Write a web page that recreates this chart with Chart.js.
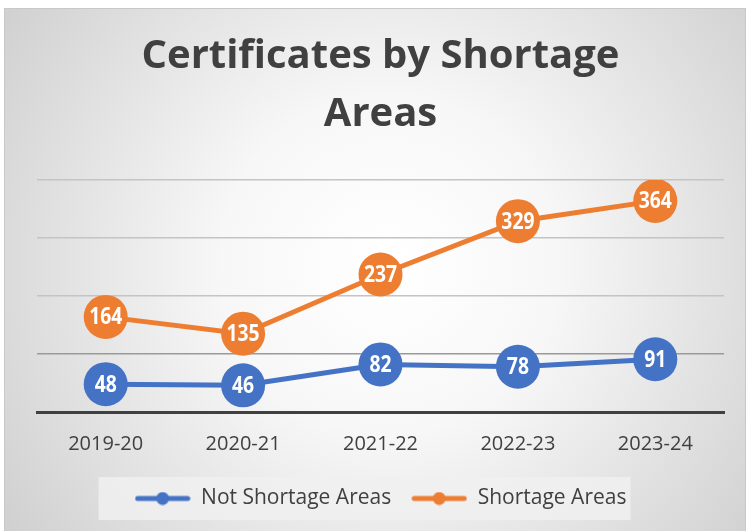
<!DOCTYPE html>
<html>
<head>
<meta charset="utf-8">
<script src="https://cdn.jsdelivr.net/npm/chart.js@4.4.0/dist/chart.umd.min.js"></script>
<style>
  html, body { margin: 0; padding: 0; background: #fff; }
  #wrap { width: 747px; height: 531px; }
</style>
</head>
<body>
<div id="wrap"><canvas id="grafico"></canvas></div>
<script>
// datos
const anios = ['2019-20', '2020-21', '2021-22', '2022-23', '2023-24'];
const noEscasez = [48, 46, 82, 78, 91];
const escasez = [164, 135, 237, 329, 364];
const tituloLineas = ['Certificates by Shortage', 'Areas'];

const AZUL = '#4472C4';
const NARANJA = '#ED7D31';
const FUENTE = '"Open Sans", sans-serif';

// icono de leyenda: linea con punto
function iconoLinea(color) {
    const c = document.createElement('canvas');
    c.width = 56; c.height = 14;
    const g = c.getContext('2d');
    g.strokeStyle = color;
    g.lineWidth = 5;
    g.lineCap = 'round';
    g.beginPath();
    g.moveTo(3, 7); g.lineTo(53, 7);
    g.stroke();
    g.fillStyle = color;
    g.beginPath();
    g.arc(28, 7, 6.5, 0, Math.PI * 2);
    g.fill();
    return c;
}

// fondo con degradado y caja de leyenda
const fondo = {
    id: 'fondo',
    beforeDraw(chart) {
        const ctx = chart.ctx;
        const w = chart.width, h = chart.height;
        ctx.save();
        ctx.fillStyle = '#fff';
        ctx.fillRect(0, 0, w, h);
        const grad = ctx.createRadialGradient(w * 0.52, h * 0.5, 10, w * 0.52, h * 0.5, w * 0.62);
        grad.addColorStop(0, '#ffffff');
        grad.addColorStop(0.35, '#f7f7f7');
        grad.addColorStop(1, '#d0d0d0');
        ctx.fillStyle = grad;
        ctx.fillRect(4, 8, w - 5, h - 8);
        ctx.strokeStyle = '#c8c8c8';
        ctx.lineWidth = 1;
        ctx.strokeRect(4.5, 8.5, w - 6, h - 8);

        const items = chart.legend.legendHitBoxes || [];
        if (items.length) {
            const first = items[0], last = items[items.length - 1];
            ctx.fillStyle = 'rgba(240,240,240,0.85)';
            ctx.fillRect(first.left - 36, first.top - 11, (last.left + last.width) - first.left + 40, first.height + 22);
        }
        ctx.restore();
    }
};

// etiquetas dentro de los puntos
const etiquetas = {
    id: 'etiquetas',
    afterDatasetsDraw(chart) {
        const ctx = chart.ctx;
        ctx.save();
        ctx.fillStyle = '#fff';
        ctx.font = 'bold 23px ' + FUENTE;
        ctx.textAlign = 'center';
        ctx.textBaseline = 'middle';
        chart.data.datasets.forEach((ds, i) => {
            chart.getDatasetMeta(i).data.forEach((pt, j) => {
                // un poco mas estrecho, como Calibri
                ctx.save();
                ctx.translate(pt.x, pt.y + 1);
                ctx.scale(0.84, 1);
                ctx.fillText(ds.data[j], 0, 0);
                ctx.restore();
            });
        });
        ctx.restore();
    }
};

new Chart(document.getElementById('grafico'), {
    type: 'line',
    data: {
        labels: anios,
        datasets: [{
            label: 'Not Shortage Areas',
            data: noEscasez,
            borderColor: AZUL,
            backgroundColor: AZUL,
            borderWidth: 5,
            pointRadius: 22,
            pointHoverRadius: 22,
            pointBorderWidth: 0,
            pointStyle: 'circle',
            tension: 0
        }, {
            label: 'Shortage Areas',
            data: escasez,
            borderColor: NARANJA,
            backgroundColor: NARANJA,
            borderWidth: 5,
            pointRadius: 22,
            pointHoverRadius: 22,
            pointBorderWidth: 0,
            pointStyle: 'circle',
            tension: 0
        }]
    },
    options: {
        responsive: true,
        maintainAspectRatio: false,
        animation: false,
        layout: { padding: { left: 37, right: 23, top: 28, bottom: 12 } },
        scales: {
            x: {
                offset: true,
                grid: { display: false, offset: true },
                border: { display: true, color: '#404040', width: 3 },
                ticks: {
                    color: '#404040',
                    font: { family: FUENTE, size: 20 },
                    padding: 12
                }
            },
            y: {
                min: 0,
                max: 400,
                ticks: { display: false, stepSize: 100 },
                border: { display: false },
                grid: {
                    drawTicks: false,
                    lineWidth: 1.5,
                    color: (c) => c.tick.value === 0 ? 'rgba(0,0,0,0)' : (c.tick.value === 100 ? '#9a9a9a' : '#c4c4c4')
                }
            }
        },
        plugins: {
            title: {
                display: true,
                text: tituloLineas,
                color: '#404040',
                font: { family: FUENTE, size: 40, weight: 'bold', lineHeight: 1.45 },
                padding: { top: 0, bottom: 36 }
            },
            legend: {
                position: 'bottom',
                labels: {
                    usePointStyle: true,
                    pointStyleWidth: 56,
                    color: '#404040',
                    font: { family: FUENTE, size: 21 },
                    padding: 20,
                    generateLabels(chart) {
                        return chart.data.datasets.map((ds, i) => ({
                            text: ds.label,
                            fillStyle: ds.borderColor,
                            strokeStyle: ds.borderColor,
                            lineWidth: 0,
                            pointStyle: iconoLinea(ds.borderColor),
                            fontColor: '#404040',
                            hidden: false,
                            datasetIndex: i
                        }));
                    }
                }
            },
            tooltip: { enabled: false }
        }
    },
    plugins: [fondo, etiquetas]
});
</script>
</body>
</html>
